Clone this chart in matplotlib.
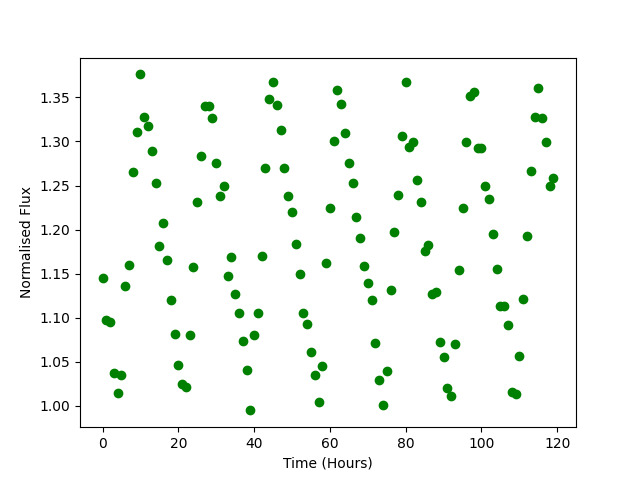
import numpy as np
import matplotlib
matplotlib.use('Agg')
import matplotlib.pyplot as plt

hours = np.arange(120)
flux = [1.145, 1.097, 1.095, 1.037, 1.015, 1.035, 1.136, 1.160, 1.265, 1.311,
        1.376, 1.328, 1.317, 1.289, 1.253, 1.181, 1.207, 1.165, 1.120, 1.082,
        1.047, 1.025, 1.021, 1.080, 1.158, 1.231, 1.284, 1.340, 1.340, 1.326,
        1.275, 1.238, 1.249, 1.147, 1.169, 1.127, 1.106, 1.074, 1.041, 0.995,
        1.080, 1.106, 1.170, 1.270, 1.348, 1.367, 1.341, 1.313, 1.270, 1.238,
        1.220, 1.184, 1.150, 1.106, 1.093, 1.061, 1.035, 1.004, 1.045, 1.162,
        1.225, 1.300, 1.358, 1.343, 1.310, 1.276, 1.253, 1.214, 1.190, 1.159,
        1.139, 1.120, 1.071, 1.029, 1.001, 1.040, 1.132, 1.197, 1.239, 1.306,
        1.367, 1.294, 1.299, 1.256, 1.231, 1.176, 1.183, 1.127, 1.129, 1.072,
        1.056, 1.020, 1.011, 1.070, 1.154, 1.224, 1.299, 1.352, 1.356, 1.292,
        1.292, 1.250, 1.235, 1.195, 1.155, 1.113, 1.113, 1.092, 1.016, 1.014,
        1.057, 1.121, 1.193, 1.266, 1.328, 1.361, 1.327, 1.299, 1.250, 1.259]

fig, ax = plt.subplots(figsize=(6.4, 4.8), dpi=100)
ax.plot(hours, flux, 'o', color='green')
ax.set_xlabel('Time (Hours)')
ax.set_ylabel('Normalised Flux')

plt.savefig('out.png')
